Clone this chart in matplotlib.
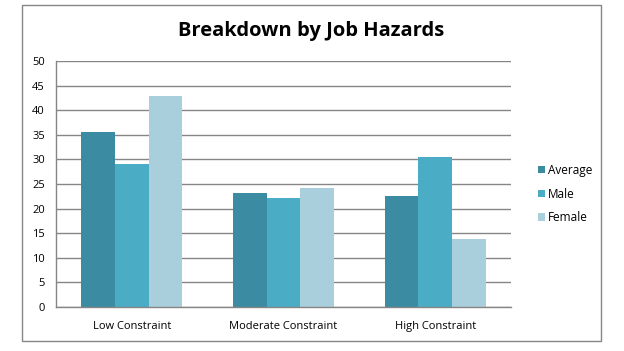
import numpy as np
import matplotlib.pyplot as plt
from matplotlib.patches import Rectangle

categories = ["Low Constraint", "Moderate Constraint", "High Constraint"]
series = ["Average", "Male", "Female"]
average = [35.6, 23.2, 22.6]
male = [29.1, 22.2, 30.5]
female = [42.9, 24.2, 13.8]
colors = ["#3B8BA3", "#4BACC6", "#A9CEDC"]

plt.rcParams['font.family'] = ['Open Sans', 'DejaVu Sans']

fig = plt.figure(figsize=(6.24, 3.51), dpi=100)
W, H = 624, 351
# plot area in pixels: x 56..511, y 61..307
ax = fig.add_axes([56 / W, 1 - 307 / H, (511 - 56) / W, (307 - 61) / H])

x = np.arange(len(categories))
bw = 1 / 4.5
for i, (name, vals) in enumerate(zip(series, [average, male, female])):
    ax.bar(x + (i - 1) * bw, vals, width=bw, color=colors[i], label=name, zorder=2)

ax.set_xlim(-0.5, len(categories) - 0.5)
ax.set_ylim(0, 50)
ax.set_yticks(np.arange(0, 51, 5))
ax.yaxis.grid(True, color="#868686", linewidth=1.0, zorder=0)
ax.set_axisbelow(True)
ax.set_xticks(x)
ax.set_xticklabels(categories)
ax.tick_params(axis='both', length=0, labelsize=8, colors="#000000")
ax.tick_params(axis='x', pad=10)
ax.tick_params(axis='y', pad=8)
for s in ["top", "right"]:
    ax.spines[s].set_visible(False)
for s in ["left", "bottom"]:
    ax.spines[s].set_color("#868686")
    ax.spines[s].set_linewidth(1.0)

fig.text(311 / W, 1 - 31 / H, "Breakdown by Job Hazards", ha="center", va="center",
         fontsize=14.5, fontweight="bold")

leg = fig.legend(loc="center left", bbox_to_anchor=(527 / W, 1 - 194 / H), frameon=False,
                 fontsize=8.5, handlelength=0.6, handleheight=0.6, handletextpad=0.3,
                 labelspacing=0.9)

# outer chart border
fig.patches.append(Rectangle((22 / W, 1 - 341 / H), (601 - 22) / W, (341 - 5) / H,
                             transform=fig.transFigure, fill=False,
                             edgecolor="#868686", linewidth=1.0))

plt.savefig("out.png", dpi=100)
